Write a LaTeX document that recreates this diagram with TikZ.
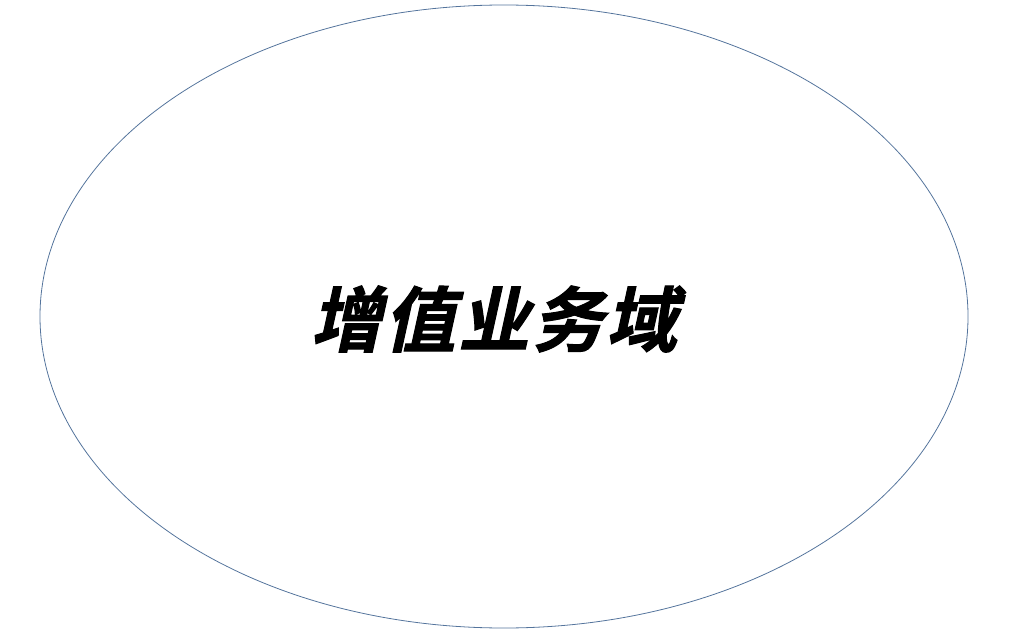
\documentclass[tikz,border=0pt]{standalone}
\usepackage{fontspec}
\newfontfamily\cjk[FakeSlant=0.22,FakeBold=1.5,LetterSpace=4]{Noto Sans CJK SC Bold}
\definecolor{ringblue}{RGB}{84,116,156}
\begin{document}
\begin{tikzpicture}[x=1pt,y=1pt,
  ring/.style={draw=ringblue,line width=0.8pt},
  title/.style={font=\cjk\fontsize{71}{78}\selectfont,text=black}]
\useasboundingbox (0,0) rectangle (1016,641);
\draw[ring] (504,324.5) ellipse [x radius=464,y radius=311.5];
\node[title] (t) at (494,322) {增值业务域};
\end{tikzpicture}
\end{document}
